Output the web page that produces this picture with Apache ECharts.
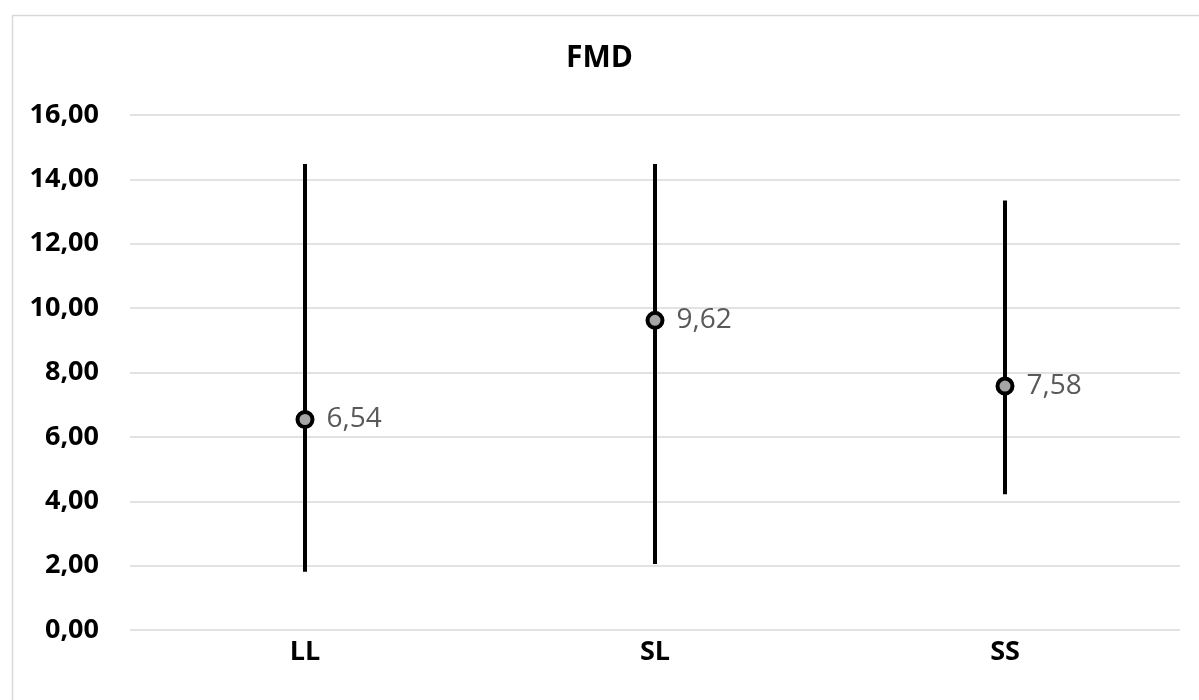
<!DOCTYPE html>
<html>
<head>
<meta charset="utf-8">
<script src="https://cdn.jsdelivr.net/npm/echarts@6/dist/echarts.min.js"></script>
<style>
html,body{margin:0;padding:0;background:#fff;}
#c{width:1199px;height:700px;}
</style>
</head>
<body>
<div id="c"></div>
<script>
const categories = ['LL', 'SL', 'SS'];
const means = [6.54, 9.62, 7.58];
const lows = [1.81, 2.05, 4.22];
const highs = [14.48, 14.48, 13.34];
const yTicks = { min: 0, max: 16, interval: 2 };

const fmt = v => v.toFixed(2).replace('.', ',');
const chart = echarts.init(document.getElementById('c'));
const errData = categories.map((c, i) => [i, lows[i], highs[i]]);

chart.setOption({
  backgroundColor: '#ffffff',
  animation: false,
  graphic: [{
    type: 'rect', left: 10, top: 13, z: -1,
    shape: { width: 1250, height: 750 },
    style: { fill: 'none', stroke: '#d9d9d9', lineWidth: 1.5 }
  }],
  title: {
    text: 'FMD', left: 'center', top: 38,
    textStyle: { fontFamily: 'Open Sans', fontWeight: 'bold', fontSize: 30, color: '#000' }
  },
  grid: { left: 130, right: 19, top: 115, bottom: 70 },
  xAxis: {
    type: 'category', data: categories, boundaryGap: true,
    axisLine: { show: false }, axisTick: { show: false },
    axisLabel: { margin: 9, fontFamily: 'Open Sans', fontWeight: 'bold', fontSize: 27, color: '#000' }
  },
  yAxis: {
    type: 'value', min: yTicks.min, max: yTicks.max, interval: yTicks.interval,
    axisLine: { show: false }, axisTick: { show: false },
    splitLine: { lineStyle: { color: '#d9d9d9', width: 1.5 } },
    axisLabel: { margin: 31, fontFamily: 'Open Sans', fontWeight: 'bold', fontSize: 27, color: '#000', formatter: fmt }
  },
  series: [{
    type: 'custom',
    data: errData,
    z: 2,
    renderItem: function (params, api) {
      const x = api.value(0);
      const p1 = api.coord([x, api.value(1)]);
      const p2 = api.coord([x, api.value(2)]);
      return {
        type: 'line',
        shape: { x1: p1[0], y1: p1[1], x2: p2[0], y2: p2[1] },
        style: { stroke: '#000', lineWidth: 4 }
      };
    }
  }, {
    type: 'scatter',
    data: means,
    z: 3,
    symbol: 'circle',
    symbolSize: 15,
    itemStyle: { color: '#a6a6a6', borderColor: '#000', borderWidth: 4, opacity: 1 },
    label: {
      show: true, position: 'right', distance: 12,
      fontFamily: 'Open Sans', fontSize: 28, color: '#595959',
      formatter: p => fmt(p.value)
    }
  }]
});
</script>
</body>
</html>
